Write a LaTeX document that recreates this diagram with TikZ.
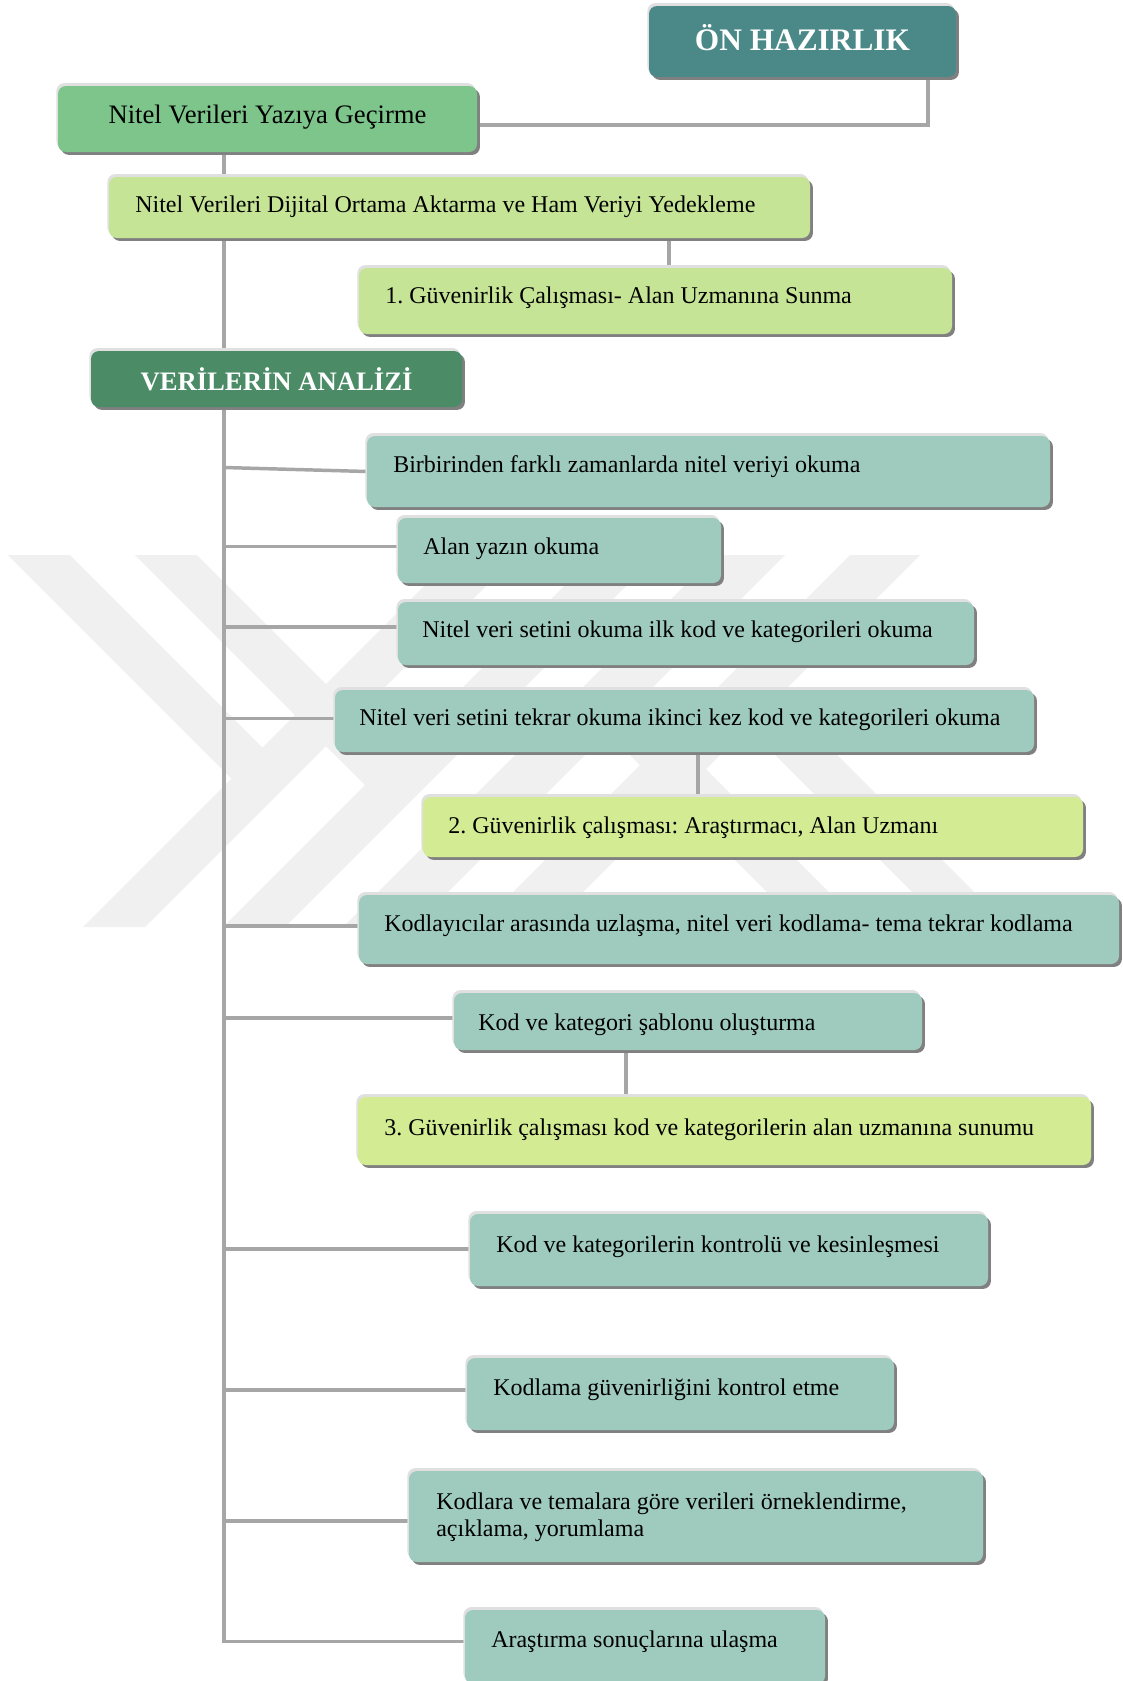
\documentclass[tikz,border=0pt]{standalone}
\usepackage{fontspec}
\setmainfont{Liberation Serif}
\usetikzlibrary{shadows}

\definecolor{hdrteal}{HTML}{4B8989}
\definecolor{hdrgreen}{HTML}{4B8B66}
\definecolor{midgreen}{HTML}{7DC58B}
\definecolor{lightlime}{HTML}{C6E496}
\definecolor{paleyellow}{HTML}{D3EB93}
\definecolor{softteal}{HTML}{9ECBBD}
\definecolor{linkgray}{HTML}{A6A6A6}
\definecolor{markgray}{HTML}{F0F0F0}

\pgfdeclarelayer{bg}
\pgfsetlayers{bg,main}

\tikzset{
  card/.style={rectangle, rounded corners=6pt, inner sep=0pt, outer sep=0pt, draw=none,
    general shadow={shadow xshift=-1.2pt, shadow yshift=2.2pt, fill=black!12},
    general shadow={shadow xshift=2.2pt, shadow yshift=-2.2pt, fill=black!50}},
  lbl/.style={inner sep=0pt, anchor=base west, font=\fontsize{18}{20}\selectfont\frenchspacing},
  link/.style={draw=linkgray, line width=2.6pt},
  emblem/.style={fill=markgray, draw=none}
}

% flow card: name, x1, y1, x2, y2, fill colour (coordinates in pixels, y downwards)
\newcommand\flowcard[6]{%
  \node[card, fill=#6, minimum width={(#4-#2)*0.75pt}, minimum height={(#5-#3)*0.75pt}]
    (#1) at ({(#2+#4)/2},{(#3+#5)/2}) {};}

\begin{document}
\frenchspacing
\begin{tikzpicture}[x=0.75pt, y=-0.75pt]
  \useasboundingbox (0,0) rectangle (1123,1681);

  % header cards
  \flowcard{onh}{649}{6}{956}{77}{hdrteal}
  \node[lbl, anchor=base, text=white, font=\fontsize{23.5}{26}\selectfont\bfseries] (onht) at (802.5,50) {ÖN HAZIRLIK};

  \flowcard{yazi}{58}{86}{477}{152}{midgreen}
  \node[lbl, anchor=base, font=\fontsize{20}{22}\selectfont] (yazit) at (267.5,123) {Nitel Verileri Yazıya Geçirme};

  \flowcard{dij}{109}{177}{810}{238}{lightlime}
  \node[lbl] (dijt) at (135,212) {Nitel Verileri Dijital Ortama Aktarma ve Ham Veriyi Yedekleme};

  \flowcard{g1}{359}{268}{952}{334}{lightlime}
  \node[lbl] (g1t) at (385,303) {1. Güvenirlik Çalışması- Alan Uzmanına Sunma};

  \flowcard{ver}{91}{351}{462}{407}{hdrgreen}
  \node[lbl, anchor=base, text=white, font=\fontsize{20}{22}\selectfont\bfseries] (vert) at (276.5,390) {VERİLERİN ANALİZİ};

  % analysis steps
  \flowcard{bir}{367}{436}{1050}{507}{softteal}
  \node[lbl] (birt) at (393,472) {Birbirinden farklı zamanlarda nitel veriyi okuma};

  \flowcard{alan}{398}{518}{721}{583}{softteal}
  \node[lbl] (alant) at (423,554) {Alan yazın okuma};

  \flowcard{nil}{398}{602}{974}{665}{softteal}
  \node[lbl] (nilt) at (422,637) {Nitel veri setini okuma ilk kod ve kategorileri okuma};

  \flowcard{ntk}{335}{690}{1034}{752}{softteal}
  \node[lbl] (ntkt) at (359,725) {Nitel veri setini tekrar okuma ikinci kez kod ve kategorileri okuma};

  \flowcard{g2}{423}{797}{1083}{857}{paleyellow}
  \node[lbl] (g2t) at (448,833) {2. Güvenirlik çalışması: Araştırmacı, Alan Uzmanı};

  \flowcard{kdl}{359}{895}{1119}{964}{softteal}
  \node[lbl] (kdlt) at (384,931) {Kodlayıcılar arasında uzlaşma, nitel veri kodlama- tema tekrar kodlama};

  \flowcard{sab}{454}{993}{922}{1050}{softteal}
  \node[lbl] (sabt) at (478,1030) {Kod ve kategori şablonu oluşturma};

  \flowcard{g3}{358}{1097}{1091}{1165}{paleyellow}
  \node[lbl] (g3t) at (384,1135) {3. Güvenirlik çalışması kod ve kategorilerin alan uzmanına sunumu};

  \flowcard{kon}{470}{1214}{988}{1286}{softteal}
  \node[lbl] (kont) at (496,1252) {Kod ve kategorilerin kontrolü ve kesinleşmesi};

  \flowcard{kgv}{467}{1358}{894}{1430}{softteal}
  \node[lbl] (kgvt) at (493,1395) {Kodlama güvenirliğini kontrol etme};

  \flowcard{kdt}{409}{1471}{983}{1562}{softteal}
  % base of a two-line node is the baseline of its last line
  \node[lbl, align=left] (kdtt) at (436,1536) {Kodlara ve temalara göre verileri örneklendirme,\\açıklama, yorumlama};

  \flowcard{ars}{465}{1610}{825}{1684}{softteal}
  \node[lbl] (arst) at (491,1647) {Araştırma sonuçlarına ulaşma};

  % x positions of the vertical connectors
  \coordinate (sx) at (224,0);
  \coordinate (ox) at (928,0);
  \coordinate (gx1) at (669,0);
  \coordinate (gx2) at (698,0);
  \coordinate (gx3) at (626,0);

  \begin{pgfonlayer}{bg}
    \fill[white] (0,0) rectangle (1123,1681);

    % faint striped emblem behind the flow
    \fill[emblem] (83,927) -- (145,927) -- (517,555) -- (455,555) -- cycle;
    \fill[emblem] (223,927) -- (285,927) -- (657,555) -- (595,555) -- cycle;
    \fill[emblem] (343,927) -- (413,927) -- (785,555) -- (715,555) -- cycle;
    \fill[emblem] (478,927) -- (548,927) -- (920,555) -- (850,555) -- cycle;
    \fill[emblem] (8,555) -- (70,555) -- (278,763) -- (247,794) -- cycle;
    \fill[emblem] (135,555) -- (197,555) -- (411.5,769.5) -- (380.5,800.5) -- cycle;
    \fill[emblem] (947,927) -- (1009,927) -- (761,679) -- (730,710) -- cycle;
    \fill[emblem] (802,927) -- (864,927) -- (621,684) -- (590,715) -- cycle;

    % connectors
    \draw[link] (onh.south -| ox) |- ([yshift=-4.5pt]yazi.east);
    \draw[link] (yazi.south -| sx) -- (dij.north -| sx);
    \draw[link] (dij.south -| sx) -- (ver.north -| sx);
    \draw[link] (dij.south -| gx1) -- (g1.north -| gx1);
    \draw[link] (ver.south -| sx) |- ([yshift=4.1pt]ars.west);
    \draw[link] ([yshift=3pt]bir.west -| sx) -- (bir.west);
    \draw[link] ([yshift=3pt]alan.west -| sx) -- ([yshift=3pt]alan.west);
    \draw[link] ([yshift=4.9pt]nil.west -| sx) -- ([yshift=4.9pt]nil.west);
    \draw[link] ([yshift=1.9pt]ntk.west -| sx) -- ([yshift=1.9pt]ntk.west);
    \draw[link] (ntk.south -| gx2) -- (g2.north -| gx2);
    \draw[link] ([yshift=2.6pt]kdl.west -| sx) -- ([yshift=2.6pt]kdl.west);
    \draw[link] ([yshift=2.6pt]sab.west -| sx) -- ([yshift=2.6pt]sab.west);
    \draw[link] (sab.south -| gx3) -- (g3.north -| gx3);
    \draw[link] ([yshift=0.75pt]kon.west -| sx) -- ([yshift=0.75pt]kon.west);
    \draw[link] ([yshift=3pt]kgv.west -| sx) -- ([yshift=3pt]kgv.west);
    \draw[link] ([yshift=-3.4pt]kdt.west -| sx) -- ([yshift=-3.4pt]kdt.west);
  \end{pgfonlayer}
\end{tikzpicture}
\end{document}
